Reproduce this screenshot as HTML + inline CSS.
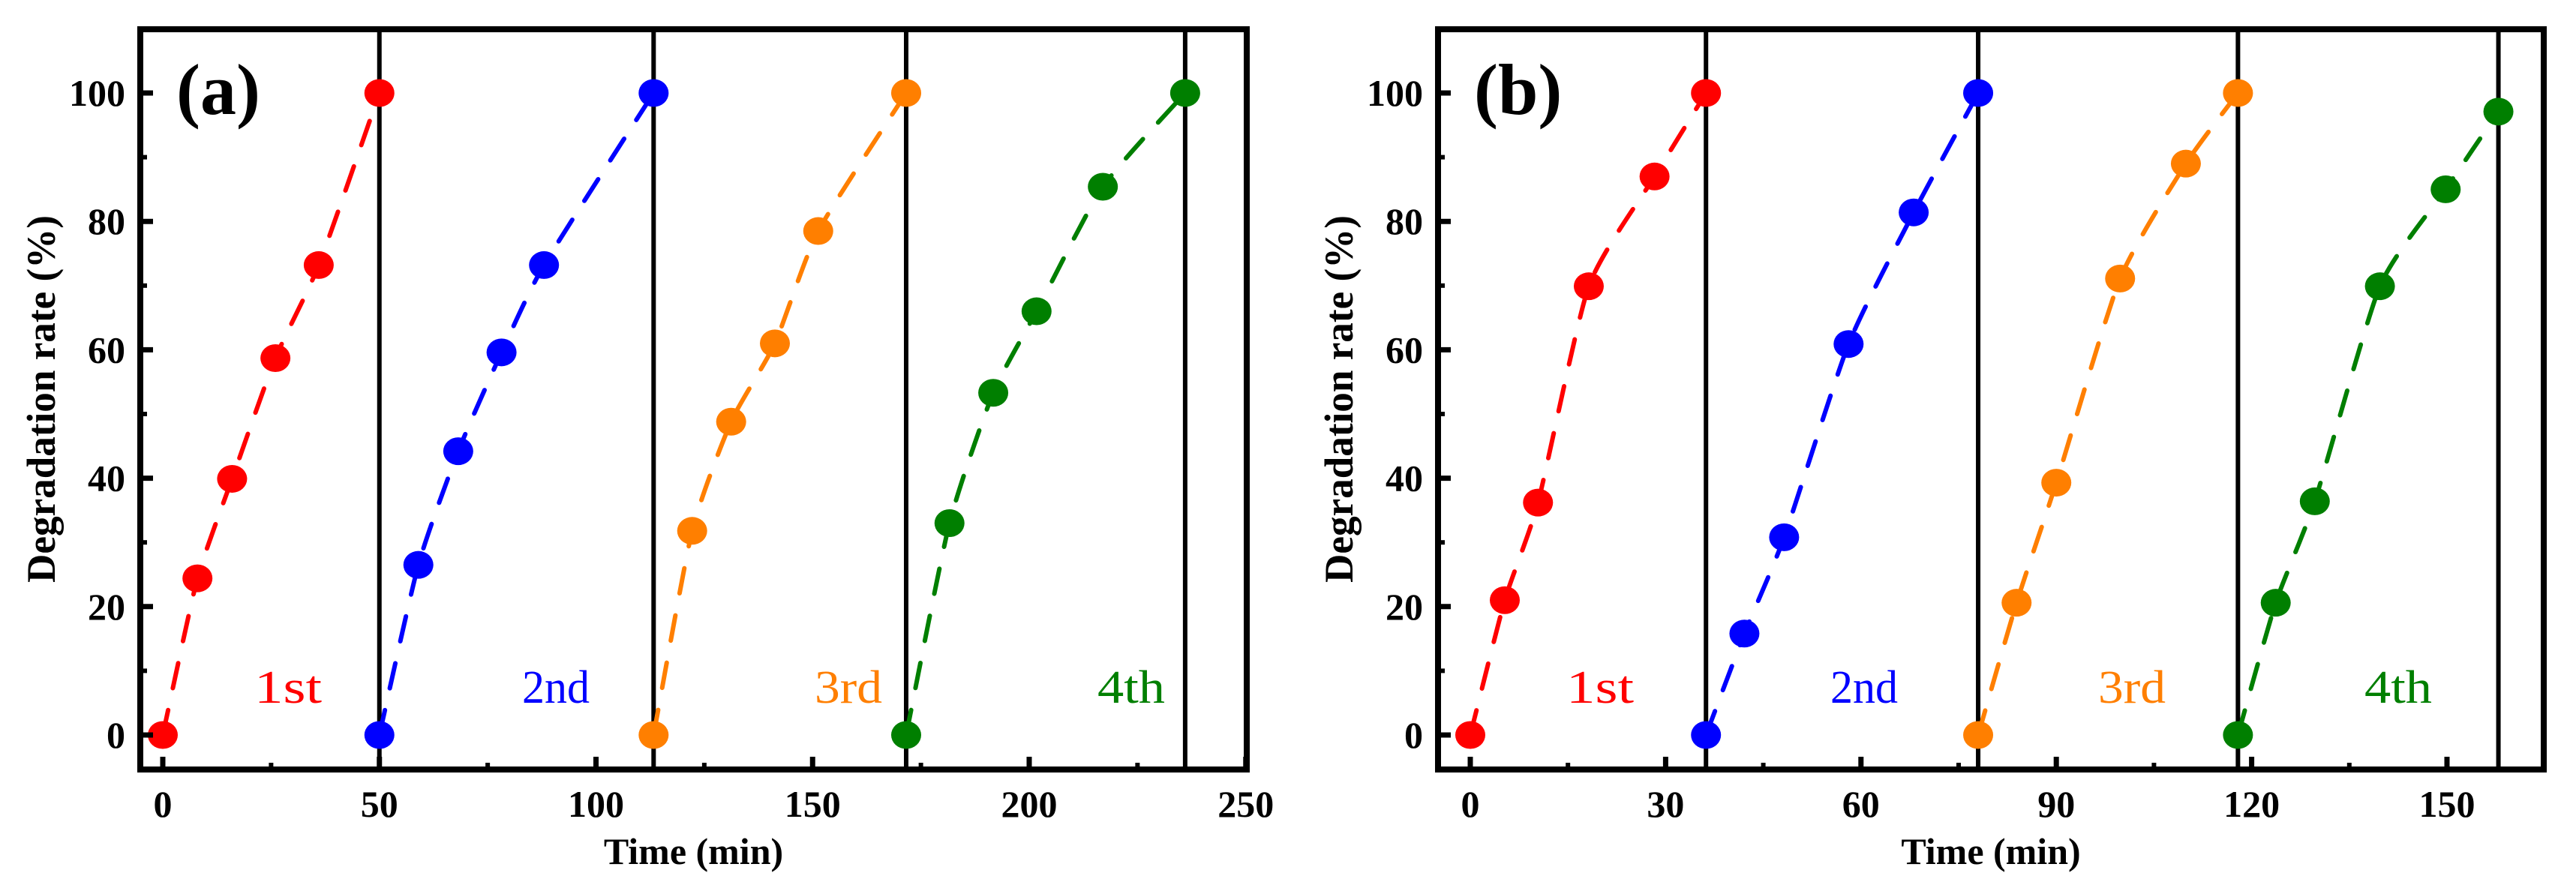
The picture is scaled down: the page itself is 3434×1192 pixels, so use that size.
<!DOCTYPE html>
<html><head><meta charset="utf-8"><style>
html,body{margin:0;padding:0;background:#fff;}
svg{display:block;}
</style></head><body>
<svg id="chart" width="3434" height="1192" viewBox="0 0 3434 1192" xmlns="http://www.w3.org/2000/svg" font-family="'Liberation Serif', serif"></svg>
<script>
// ---- Panel (a) data ----
const aRedX = [0, 8, 16, 26, 36, 50];
const aRedY = [0, 24.4, 39.9, 58.7, 73.2, 100];
const aBlueX = [50, 59, 68.2, 78.2, 88, 113.3];
const aBlueY = [0, 26.5, 44.2, 59.6, 73.2, 100];
const aOrangeX = [113.3, 122.2, 131.2, 141.3, 151.3, 171.6];
const aOrangeY = [0, 31.8, 48.8, 61, 78.5, 100];
const aGreenX = [171.6, 181.6, 191.7, 201.7, 217, 236];
const aGreenY = [0, 33, 53.3, 66, 85.4, 100];
const aSeparators = [50, 113.3, 171.6, 236];
const aXTicks = [0, 50, 100, 150, 200, 250];
const aXMinor = [25, 75, 125, 175, 225];
// ---- Panel (b) data ----
const bRedX = [0, 5.3, 10.4, 18.2, 28.3, 36.2];
const bRedY = [0, 21, 36.2, 69.9, 87, 100];
const bBlueX = [36.2, 42.1, 48.2, 58.1, 68.1, 78];
const bBlueY = [0, 15.8, 30.8, 60.9, 81.4, 100];
const bOrangeX = [78, 83.9, 90, 99.8, 109.9, 117.9];
const bOrangeY = [0, 20.6, 39.3, 71.1, 89, 100];
const bGreenX = [117.9, 123.7, 129.7, 139.7, 149.8, 157.9];
const bGreenY = [0, 20.6, 36.4, 69.9, 85, 97.1];
const bSeparators = [36.2, 78, 117.9, 157.9];
const bXTicks = [0, 30, 60, 90, 120, 150];
const bXMinor = [15, 45, 75, 105, 135];
// ---- shared ----
const yTicks = [0, 20, 40, 60, 80, 100];
const yMinor = [10, 30, 50, 70, 90];
const cycleLabels = ["1st", "2nd", "3rd", "4th"];
const colors = ["#ff0000", "#0000ff", "#ff7f00", "#007f00"];

const NS = "http://www.w3.org/2000/svg";
const svg = document.getElementById("chart");
function el(tag, attrs, parent) {
  const e = document.createElementNS(NS, tag);
  for (const k in attrs) e.setAttribute(k, attrs[k]);
  (parent || svg).appendChild(e);
  return e;
}
function smoothPath(pts) {
  let d = "M" + pts[0][0] + "," + pts[0][1];
  for (let i = 0; i < pts.length - 1; i++) {
    const p0 = pts[Math.max(0, i - 1)], p1 = pts[i], p2 = pts[i + 1], p3 = pts[Math.min(pts.length - 1, i + 2)];
    const k = 10;
    const c1x = p1[0] + (p2[0] - p0[0]) / k, c1y = p1[1] + (p2[1] - p0[1]) / k;
    const c2x = p2[0] - (p3[0] - p1[0]) / k, c2y = p2[1] - (p3[1] - p1[1]) / k;
    d += " C" + c1x + "," + c1y + " " + c2x + "," + c2y + " " + p2[0] + "," + p2[1];
  }
  return d;
}

function panel(cfg) {
  const g = el("g", {});
  
  
  const L = cfg.left, R = cfg.right, T = 39, B = 1026;
  const xs = v => cfg.x0 + v * cfg.xs;
  const ys = v => 980 - v * 8.56;

  cfg.seps.forEach(s => {
    const ln = el("line", {x1: xs(s), x2: xs(s), y1: T, y2: B, stroke: "#000", "stroke-width": 6}, g);
    
    
  });

  cfg.series.forEach((s, si) => {
    const pts = s.x.map((v, i) => [xs(v), ys(s.y[i])]);
    const p = el("path", {d: smoothPath(pts), fill: "none", stroke: colors[si], "stroke-width": 6, "stroke-dasharray": "34 30", "stroke-linecap": "round"}, g);
    
    
    pts.forEach(pt => {
      const c = el("ellipse", {cx: pt[0], cy: pt[1], rx: 20, ry: 18.5, fill: colors[si]}, g);
      
      
    });
    const t = el("text", {x: cfg.labelX[si], y: 937, fill: colors[si], "font-size": 62, textLength: 90, lengthAdjust: "spacingAndGlyphs"}, g);
    t.textContent = cycleLabels[si];
    
    
  });

  const fr = el("rect", {x: L, y: T, width: R - L, height: B - T, fill: "none", stroke: "#000", "stroke-width": 8}, g);
  
  

  yTicks.forEach(v => {
    el("line", {x1: L, x2: L + 17, y1: ys(v), y2: ys(v), stroke: "#000", "stroke-width": 7}, g);
    const t = el("text", {x: L - 20, y: ys(v) + 17, "text-anchor": "end", "font-size": 50, "font-weight": "bold"}, g);
    t.textContent = v;
    
    
  });
  yMinor.forEach(v => el("line", {x1: L, x2: L + 9, y1: ys(v), y2: ys(v), stroke: "#000", "stroke-width": 6}, g));
  cfg.xt.forEach(v => {
    el("line", {x1: xs(v), x2: xs(v), y1: B, y2: B - 17, stroke: "#000", "stroke-width": 7}, g);
    const t = el("text", {x: xs(v), y: 1089, "text-anchor": "middle", "font-size": 50, "font-weight": "bold"}, g);
    t.textContent = v;
    
    
  });
  cfg.xm.forEach(v => el("line", {x1: xs(v), x2: xs(v), y1: B, y2: B - 9, stroke: "#000", "stroke-width": 6}, g));

  const xt = el("text", {x: (L + R) / 2, y: 1152, "text-anchor": "middle", "font-size": 50, "font-weight": "bold"}, g);
  xt.textContent = "Time (min)";
  
  
  const yt = el("text", {x: 0, y: 0, "text-anchor": "middle", "font-size": 54, "font-weight": "bold", textLength: 490, lengthAdjust: "spacingAndGlyphs", transform: "translate(" + (L - 114) + "," + 532 + ") rotate(-90)"}, g);
  yt.textContent = "Degradation rate (%)";
  
  
  const pl = el("text", {x: L + 48, y: 152, "font-size": 96, "font-weight": "bold"}, g);
  pl.textContent = cfg.tag;
  
  
}

panel({name: "panel-a", tag: "(a)", left: 187, right: 1662, x0: 217, xs: 5.775,
  seps: aSeparators, xt: aXTicks, xm: aXMinor,
  series: [{x: aRedX, y: aRedY}, {x: aBlueX, y: aBlueY}, {x: aOrangeX, y: aOrangeY}, {x: aGreenX, y: aGreenY}],
  labelX: [339, 696, 1086, 1463]});
panel({name: "panel-b", tag: "(b)", left: 1917, right: 3391, x0: 1960, xs: 8.68,
  seps: bSeparators, xt: bXTicks, xm: bXMinor,
  series: [{x: bRedX, y: bRedY}, {x: bBlueX, y: bBlueY}, {x: bOrangeX, y: bOrangeY}, {x: bGreenX, y: bGreenY}],
  labelX: [2088, 2440, 2797, 3152]});
</script>
</body></html>
